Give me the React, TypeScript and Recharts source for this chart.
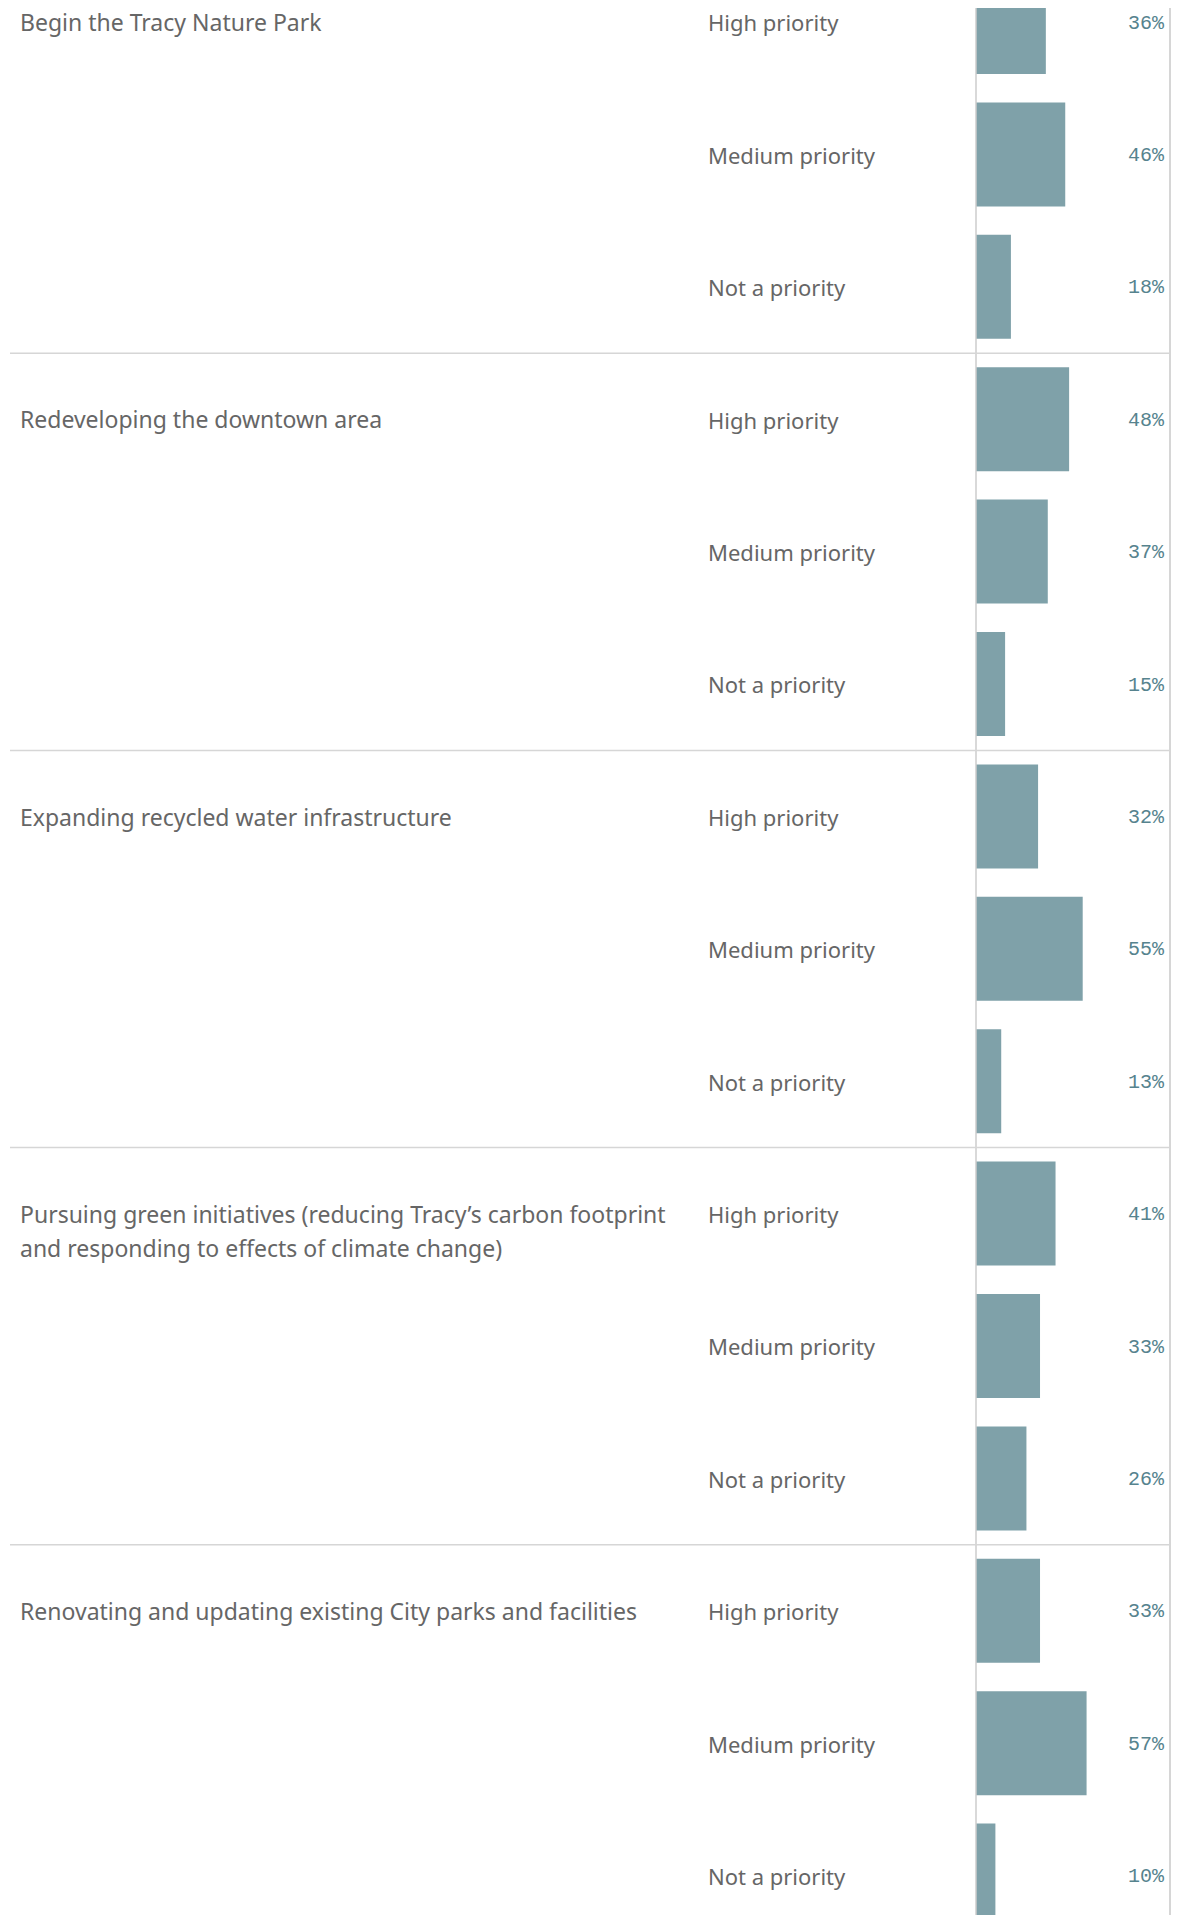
import { BarChart, Bar, XAxis, YAxis, LabelList, ReferenceLine } from 'recharts';

const initiatives = [
  'Begin the Tracy Nature Park',
  'Redeveloping the downtown area',
  'Expanding recycled water infrastructure',
  'Pursuing green initiatives (reducing Tracy’s carbon footprint and responding to effects of climate change)',
  'Renovating and updating existing City parks and facilities',
];

const priorities = ['High priority', 'Medium priority', 'Not a priority'];

// share of respondents, per initiative
const highShare = [36, 48, 32, 41, 33];
const mediumShare = [46, 37, 55, 33, 57];
const notShare = [18, 15, 13, 26, 10];

const shares = [highShare, mediumShare, notShare];

const rows = initiatives.flatMap((name, g) =>
  priorities.map((priority, p) => ({
    id: `${g}-${p}`,
    group: g,
    item: p,
    initiative: name,
    priority,
    value: shares[p][g],
  }))
);

const ROW_H = 132.4;
const CHART_W = 1168;
const CHART_H = ROW_H * rows.length;
const AXIS_W = 968;
const MARGIN_R = 6;
const PLOT_RIGHT = CHART_W - MARGIN_R;

const TEXT_GRAY = '#666666';
const BAR_COLOR = '#7fa1a9';
const LABEL_COLOR = '#56838e';
const RULE_COLOR = '#d6d6d6';
const FONT = '"Noto Sans", sans-serif';
const GROUP_FONT_SIZE = 23;
const GROUP_WRAP = 680;

let measureCtx: CanvasRenderingContext2D | null = null;

// break a label into lines that fit the label column
function wrapLabel(label: string): string[] {
  if (!measureCtx) {
    measureCtx = document.createElement('canvas').getContext('2d');
  }
  const ctx = measureCtx!;
  ctx.font = `${GROUP_FONT_SIZE}px ${FONT}`;
  const lines: string[] = [];
  let line = '';
  label.split(' ').forEach((word) => {
    const next = line ? `${line} ${word}` : word;
    if (line && ctx.measureText(next).width > GROUP_WRAP) {
      lines.push(line);
      line = word;
    } else {
      line = next;
    }
  });
  if (line) lines.push(line);
  return lines;
}

function RowTick(props: any) {
  const { y, payload } = props;
  const row = rows.find((r) => r.id === payload.value);
  if (!row) return null;
  return (
    <g>
      {row.item === 0 && row.group > 0 && (
        <line x1={2} x2={PLOT_RIGHT} y1={y - ROW_H / 2} y2={y - ROW_H / 2} stroke={RULE_COLOR} strokeWidth={1.5} />
      )}
      {row.item === 0 && (
        <text x={12} y={y + 9} fill={TEXT_GRAY} style={{ fontFamily: FONT, fontSize: GROUP_FONT_SIZE }}>
          {wrapLabel(row.initiative).map((ln, i) => (
            <tspan key={i} x={12} dy={i === 0 ? 0 : 34}>
              {ln}
            </tspan>
          ))}
        </text>
      )}
      <text x={700} y={y} dy="0.42em" fill={TEXT_GRAY} style={{ fontFamily: FONT, fontSize: 22 }}>
        {row.priority}
      </text>
    </g>
  );
}

function ShareLabel(props: any) {
  const { y, height, value } = props;
  return (
    <text
      x={PLOT_RIGHT - 6}
      y={y + height / 2}
      dy="0.33em"
      textAnchor="end"
      fill={LABEL_COLOR}
      style={{ fontFamily: '"Liberation Mono", monospace', fontSize: 20 }}
    >
      {`${value}%`}
    </text>
  );
}

export default function App() {
  return (
    <div style={{ width: CHART_W, height: 1915, marginBottom: -8, overflow: 'hidden', background: '#fff' }}>
      <div style={{ marginTop: -52 }}>
        <BarChart
          width={CHART_W}
          height={CHART_H}
          data={rows}
          layout="vertical"
          margin={{ top: 0, right: MARGIN_R, bottom: 0, left: 0 }}
        >
          <XAxis type="number" domain={[0, 100]} hide />
          <YAxis
            type="category"
            dataKey="id"
            width={AXIS_W}
            interval={0}
            tickLine={false}
            axisLine={{ stroke: '#cccccc', strokeWidth: 1.5 }}
            tick={<RowTick />}
          />
          <ReferenceLine x={100} stroke={RULE_COLOR} strokeWidth={2} />
          <Bar dataKey="value" fill={BAR_COLOR} barSize={104} isAnimationActive={false}>
            <LabelList dataKey="value" content={<ShareLabel />} />
          </Bar>
        </BarChart>
      </div>
    </div>
  );
}
